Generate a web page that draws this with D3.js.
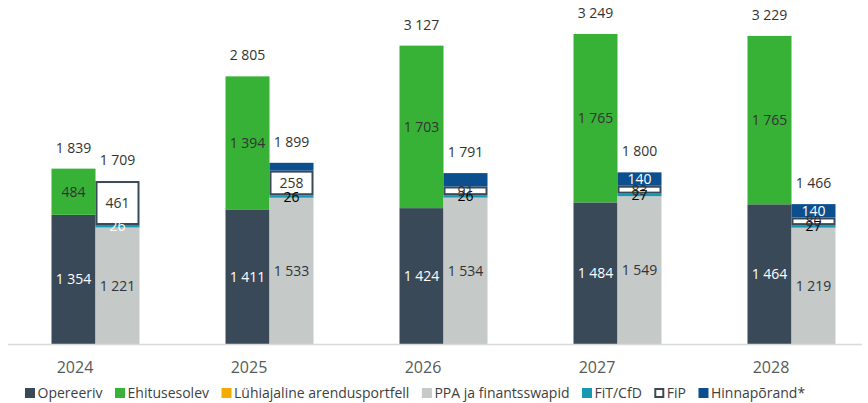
<!DOCTYPE html>
<html>
<head>
<meta charset="utf-8">
<script src="https://cdn.jsdelivr.net/npm/d3@7/dist/d3.min.js"></script>
<style>
  html, body { margin: 0; padding: 0; background: #fff; }
  svg { display: block; font-family: "Open Sans", sans-serif; }
</style>
</head>
<body>
<svg id="chart" width="868" height="403"></svg>
<script>
// Portfolio capacity by year: operating + under construction (left bar)
// and contracted coverage (right bar), MW
const years = ["2024", "2025", "2026", "2027", "2028"];

const opereeriv    = [1354, 1411, 1424, 1484, 1464];
const ehitusesolev = [484, 1394, 1703, 1765, 1765];
const luhiajaline  = [0, 0, 0, 0, 0];
const ppa          = [1221, 1533, 1534, 1549, 1219];
const fitCfd       = [26, 26, 26, 27, 27];
const fip          = [461, 258, 91, 83, 80];
const hinnaporand  = [0, 82, 140, 140, 140];

const totalsLeft  = [1839, 2805, 3127, 3249, 3229];
const totalsRight = [1709, 1899, 1791, 1800, 1466];

const legendNames = ["Opereeriv", "Ehitusesolev", "Lühiajaline arendusportfell",
                     "PPA ja finantsswapid", "FiT/CfD", "FiP", "Hinnapõrand*"];

const C = {
  dark: "#394958", green: "#37b236", orange: "#f4ab00", grey: "#c5c9c8",
  teal: "#1699b3", white: "#ffffff", blue: "#0b4f8e", text: "#333333"
};

// series definitions: which bar, colour and label styling
const series = [
  { key: "Opereeriv", values: opereeriv, bar: 0, fill: C.dark, label: () => "#ffffff" },
  { key: "Ehitusesolev", values: ehitusesolev, bar: 0, fill: C.green, label: () => C.text },
  { key: "Lühiajaline arendusportfell", values: luhiajaline, bar: 0, fill: C.orange, label: () => C.text },
  { key: "PPA ja finantsswapid", values: ppa, bar: 1, fill: C.grey, label: () => C.text },
  { key: "FiT/CfD", values: fitCfd, bar: 1, fill: C.teal, label: i => i === 0 ? "#ffffff" : "#000000" },
  { key: "FiP", values: fip, bar: 1, fill: C.white, stroke: C.dark, label: () => C.text },
  { key: "Hinnapõrand*", values: hinnaporand, bar: 1, fill: C.blue, label: () => "#ffffff",
    hideLabel: i => i < 3 }
];

const svg = d3.select("#chart");

const x = d3.scalePoint().domain(years).range([95.5, 791.5]);
const sub = d3.scaleBand().domain([0, 1]).range([-44, 44]).padding(0);
const y = d3.scaleLinear().domain([0, 3249]).range([344, 34]);

// stack each bar's segments
const segs = [];
const tops = years.map(() => [0, 0]);
years.forEach((yr, i) => {
  series.forEach(s => {
    const v = s.values[i];
    if (!v) return;
    const y0 = tops[i][s.bar];
    const y1 = y0 + v;
    tops[i][s.bar] = y1;
    segs.push({ yr, i, s, v, y0, y1 });
  });
});

const g = svg.append("g");

g.selectAll("rect.seg")
  .data(segs)
  .join("rect")
  .attr("class", "seg")
  .attr("x", d => x(d.yr) + sub(d.s.bar) + (d.s.stroke ? 1 : 0))
  .attr("width", d => sub.bandwidth() - (d.s.stroke ? 2 : 0))
  .attr("y", d => y(d.y1) + (d.s.stroke ? 1 : 0))
  .attr("height", d => y(d.y0) - y(d.y1) - (d.s.stroke ? 2 : 0))
  .attr("fill", d => d.s.fill)
  .attr("stroke", d => d.s.stroke || "none")
  .attr("stroke-width", d => d.s.stroke ? 2 : 0);

// baseline
svg.append("line")
  .attr("x1", 8).attr("x2", 862)
  .attr("y1", 344.5).attr("y2", 344.5)
  .attr("stroke", "#d9d9d9").attr("stroke-width", 1.5);

const fmt = v => d3.format(",")(v).replace(/,/g, " ");

// segment value labels
g.selectAll("text.val")
  .data(segs.filter(d => !(d.s.hideLabel && d.s.hideLabel(d.i))))
  .join("text")
  .attr("class", "val")
  .attr("x", d => x(d.yr) + sub(d.s.bar) + sub.bandwidth() / 2)
  .attr("y", d => (y(d.y0) + y(d.y1)) / 2)
  .attr("dy", "0.36em")
  .attr("text-anchor", "middle")
  .attr("font-size", 14)
  .attr("fill", d => d.s.label(d.i))
  .text(d => fmt(d.v));

// totals above each bar
const totals = [];
years.forEach((yr, i) => {
  totals.push({ yr, bar: 0, v: totalsLeft[i], top: tops[i][0] });
  totals.push({ yr, bar: 1, v: totalsRight[i], top: tops[i][1] });
});
g.selectAll("text.tot")
  .data(totals)
  .join("text")
  .attr("class", "tot")
  .attr("x", d => x(d.yr) + sub(d.bar) + sub.bandwidth() / 2)
  .attr("y", d => y(d.top) - 16)
  .attr("text-anchor", "middle")
  .attr("font-size", 14)
  .attr("fill", C.text)
  .text(d => fmt(d.v));

// category axis, year labels sit under the left bar of each pair
const axis = svg.append("g")
  .attr("transform", "translate(0,373)")
  .call(d3.axisBottom(x).tickSize(0).tickPadding(0));
axis.select(".domain").remove();
axis.selectAll("text")
  .attr("font-family", "Open Sans, sans-serif")
  .attr("font-size", 16)
  .attr("fill", "#595959")
  .attr("dy", 0)
  .attr("dx", -21);

// legend
const legend = svg.append("g").attr("transform", "translate(25,393)");
let lx = 0;
legendNames.forEach((name, k) => {
  const s = series[k];
  const item = legend.append("g").attr("transform", `translate(${lx},0)`);
  item.append("rect")
    .attr("x", s.stroke ? 1 : 0).attr("y", s.stroke ? -4 : -5)
    .attr("width", s.stroke ? 8 : 10).attr("height", s.stroke ? 8 : 10)
    .attr("fill", s.fill)
    .attr("stroke", s.stroke || "none")
    .attr("stroke-width", s.stroke ? 2 : 0);
  const t = item.append("text")
    .attr("x", 12.5).attr("dy", "0.35em")
    .attr("font-size", 14)
    .attr("fill", "#404040")
    .text(name);
  lx += 12.5 + t.node().getComputedTextLength() + 12.5;
});
</script>
</body>
</html>
